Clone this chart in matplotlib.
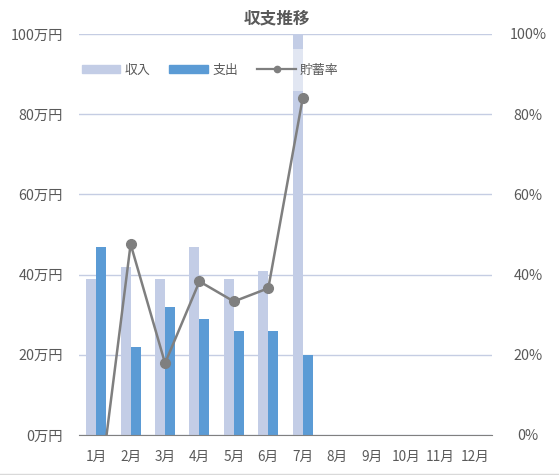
import numpy as np
import matplotlib.pyplot as plt
from matplotlib.lines import Line2D
from matplotlib.patches import Patch

plt.rcParams['font.family'] = ['Noto Sans CJK JP', 'DejaVu Sans']

# データ
months = ["1月", "2月", "3月", "4月", "5月", "6月", "7月", "8月", "9月", "10月", "11月", "12月"]
income = [39, 42, 39, 47, 39, 41, 125]   # 万円
expense = [47, 22, 32, 29, 26, 26, 20]   # 万円
rate = [-20.5, 47.6, 17.9, 38.3, 33.3, 36.6, 84.0]  # %

c_income = "#c3cde6"
c_expense = "#5b9bd5"
c_line = "#7f7f7f"
c_text = "#595959"
c_grid = "#c5cde3"

fig = plt.figure(figsize=(5.59, 4.75), dpi=100)
ax = fig.add_axes([79 / 559, 1 - 435 / 475, 413 / 559, 401 / 475])
ax2 = ax.twinx()

x = np.arange(len(months))
n = len(income)
w = 0.29
ax.bar(x[:n] - w / 2, income, w, color=c_income, zorder=2)
ax.bar(x[:n] + w / 2, expense, w, color=c_expense, zorder=2)

ax.set_xlim(-0.5, len(months) - 0.5)
ax.set_ylim(0, 100)
ax.set_yticks(range(0, 101, 20))
ax.set_yticklabels([f"{v}万円" for v in range(0, 101, 20)])
ax.set_xticks(x)
ax.set_xticklabels(months)
ax.yaxis.grid(True, color=c_grid, linewidth=1, zorder=0)
ax.set_axisbelow(True)

ax2.plot(x[:n], rate, color=c_line, linewidth=1.8, marker="o", markersize=7, zorder=3)
ax2.set_ylim(0, 100)
ax2.set_yticks(range(0, 101, 20))
ax2.set_yticklabels([f"{v}%" for v in range(0, 101, 20)])

for a in (ax, ax2):
    for s in a.spines.values():
        s.set_visible(False)
    a.tick_params(length=0, colors=c_text)
ax.spines["bottom"].set_visible(True)
ax.spines["bottom"].set_color("#808080")
ax.tick_params(axis="y", pad=11.5, labelsize=10.3)
ax.tick_params(axis="x", pad=11, labelsize=9.8)
ax2.tick_params(axis="y", pad=26, labelsize=10.3)
for lbl in ax2.get_yticklabels():
    lbl.set_horizontalalignment("center")

handles = [
    Patch(color=c_income, label="収入"),
    Patch(color=c_expense, label="支出"),
    Line2D([], [], color=c_line, linewidth=1.6, marker="o", markersize=4.5, label="貯蓄率"),
]
leg = ax2.legend(handles=handles, loc="center left", bbox_to_anchor=(-0.028, 0.91),
                 borderaxespad=0, ncol=3, frameon=True, fontsize=9.3,
                 handlelength=3.0, handleheight=0.5, columnspacing=1.5,
                 handletextpad=0.3, borderpad=1.1)
leg.get_frame().set_facecolor("white")
leg.get_frame().set_alpha(0.5)
leg.get_frame().set_edgecolor("none")
leg.get_frame().set_linewidth(0)
for t in leg.get_texts():
    t.set_color(c_text)

fig.text(277 / 559, 1 - 18 / 475, "収支推移", ha="center", va="center",
         fontsize=12, fontweight="bold", color=c_text)

# 下端の薄い枠線
fig.add_artist(Line2D([0, 1], [1.5 / 475, 1.5 / 475], transform=fig.transFigure,
                      color="#d9d9d9", linewidth=1))

fig.savefig("out.png", dpi=100)
